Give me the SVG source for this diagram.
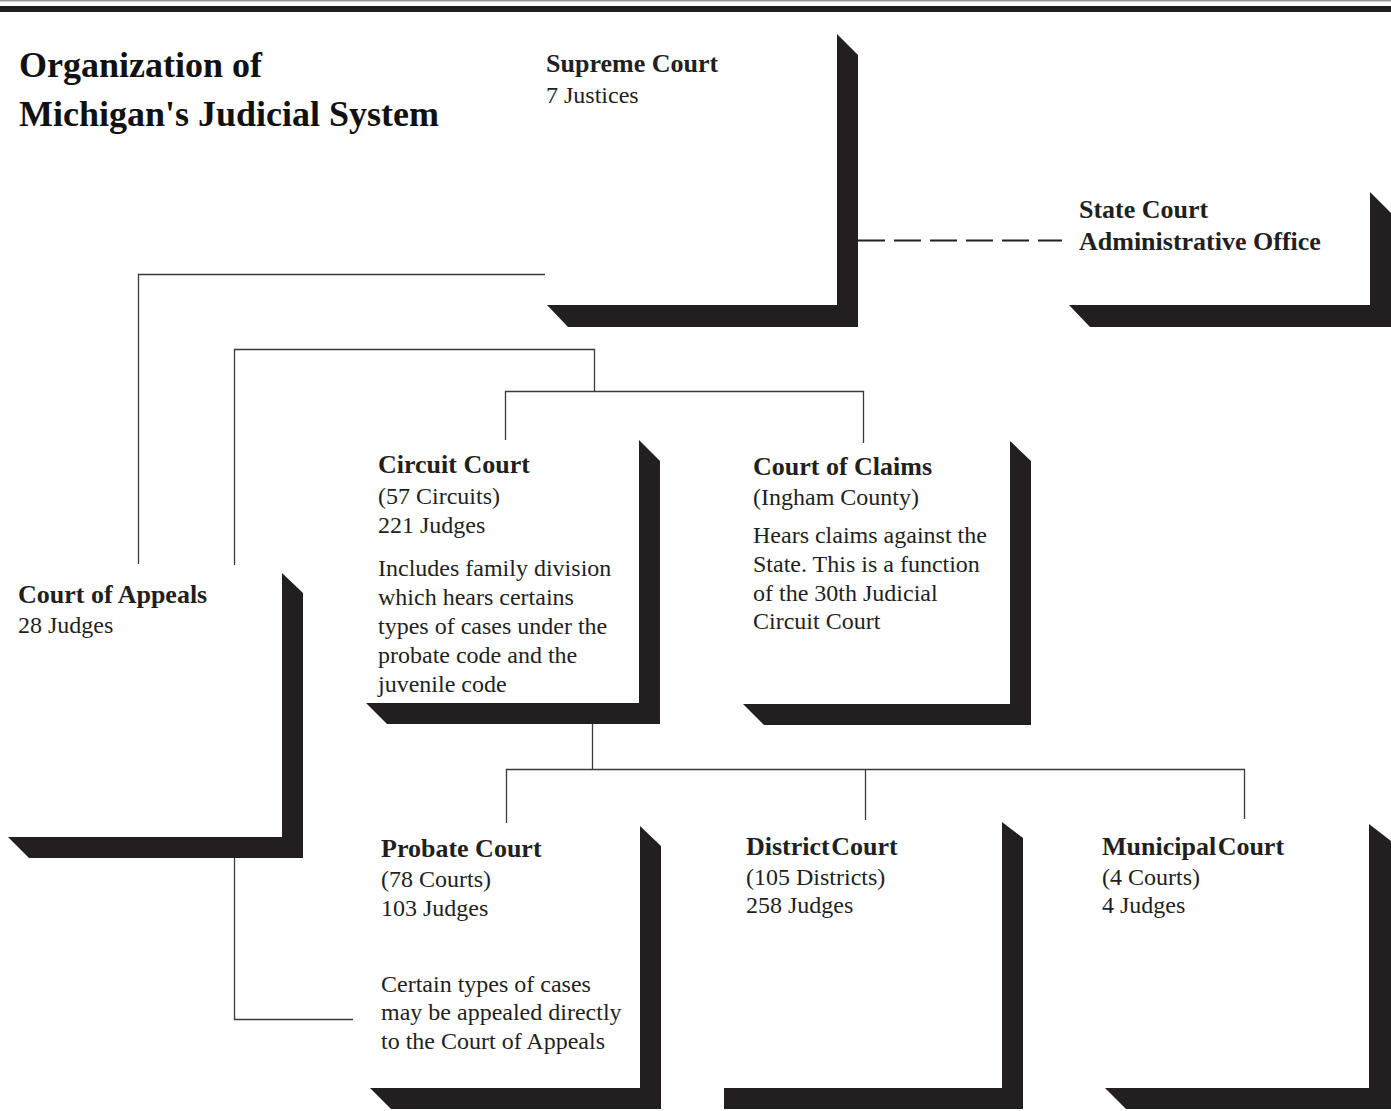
<svg xmlns="http://www.w3.org/2000/svg" width="1391" height="1111" viewBox="0 0 1391 1111">
<style>
.bg{fill:#ffffff}
.sh{fill:#231f20}
.ttl{font-family:"Liberation Serif","Times New Roman",serif;font-weight:bold;font-size:36px;fill:#111}
.h{font-family:"Liberation Serif","Times New Roman",serif;font-weight:bold;font-size:26px;fill:#231f20}
.t{font-family:"Liberation Serif","Times New Roman",serif;font-size:24px;fill:#231f20}
.ln{fill:none;stroke:#3a3a3a;stroke-width:1.3}
.dash{fill:none;stroke:#231f20;stroke-width:2;stroke-dasharray:27 9}
</style>
<rect class="bg" x="0" y="0" width="1391" height="1111"/>
<rect x="0" y="0" width="1391" height="1.5" fill="#9a9a9a"/>
<rect x="0" y="6" width="1391" height="6" fill="#231f20"/>

<g id="title">
<text class="ttl" x="19" y="77">Organization of</text>
<text class="ttl" x="19" y="126">Michigan's Judicial System</text>
</g>

<g id="connectors">
<path class="ln" d="M545,274.5 H138.5 V564"/>
<path class="ln" d="M594.5,391 V349.5 H234.5 V565"/>
<path class="ln" d="M505.5,440 V391.5 H863.5 V443"/>
<path class="dash" d="M858,240.5 H1062"/>
<path class="ln" d="M592.5,724 V769.5"/>
<path class="ln" d="M506.5,823 V769.5 H1244.5 V819"/>
<path class="ln" d="M865.5,769.5 V820"/>
<path class="ln" d="M234.5,858 V1019.5 H353"/>
</g>

<g id="supreme-court">
<polygon class="sh" points="837,34 858,55 858,327 568,327 547,305 837,305"/>
<text class="h" x="546" y="72">Supreme Court</text>
<text class="t" x="546" y="103">7 Justices</text>
</g>

<g id="state-court-administrative-office">
<polygon class="sh" points="1370,192 1391,213 1391,327 1090,327 1069,305 1370,305"/>
<text class="h" x="1079" y="218">State Court</text>
<text class="h" x="1079" y="250">Administrative Office</text>
</g>

<g id="circuit-court">
<polygon class="sh" points="639,440 660,461 660,724 387,724 366,703 639,703"/>
<text class="h" x="378" y="473">Circuit Court</text>
<text class="t" x="378" y="504">(57 Circuits)</text>
<text class="t" x="378" y="533">221 Judges</text>
<text class="t" x="378" y="576">Includes family division</text>
<text class="t" x="378" y="605">which hears certains</text>
<text class="t" x="378" y="634">types of cases under the</text>
<text class="t" x="378" y="663">probate code and the</text>
<text class="t" x="378" y="692">juvenile code</text>
</g>

<g id="court-of-claims">
<polygon class="sh" points="1010,441 1031,461 1031,725 764,725 743,704 1010,704"/>
<text class="h" x="753" y="475">Court of Claims</text>
<text class="t" x="753" y="505">(Ingham County)</text>
<text class="t" x="753" y="543">Hears claims against the</text>
<text class="t" x="753" y="572">State. This is a function</text>
<text class="t" x="753" y="601">of the 30th Judicial</text>
<text class="t" x="753" y="629">Circuit Court</text>
</g>

<g id="court-of-appeals">
<polygon class="sh" points="282,573 303,593 303,858 29,858 8,837 282,837"/>
<text class="h" x="18" y="603">Court of Appeals</text>
<text class="t" x="18" y="633">28 Judges</text>
</g>

<g id="probate-court">
<polygon class="sh" points="640,826 661,846 661,1109 391,1109 370,1088 640,1088"/>
<text class="h" x="381" y="857">Probate Court</text>
<text class="t" x="381" y="887">(78 Courts)</text>
<text class="t" x="381" y="916">103 Judges</text>
<text class="t" x="381" y="992">Certain types of cases</text>
<text class="t" x="381" y="1020">may be appealed directly</text>
<text class="t" x="381" y="1049">to the Court of Appeals</text>
</g>

<g id="district-court">
<polygon class="sh" points="1002,822 1023,838 1023,1109 724,1109 724,1088 1002,1088"/>
<text class="h" x="746" y="855" word-spacing="-5">District Court</text>
<text class="t" x="746" y="885">(105 Districts)</text>
<text class="t" x="746" y="913">258 Judges</text>
</g>

<g id="municipal-court">
<polygon class="sh" points="1369,824 1391,841 1391,1109 1126,1109 1105,1088 1369,1088"/>
<text class="h" x="1102" y="855" word-spacing="-5">Municipal Court</text>
<text class="t" x="1102" y="885">(4 Courts)</text>
<text class="t" x="1102" y="913">4 Judges</text>
</g>
</svg>
